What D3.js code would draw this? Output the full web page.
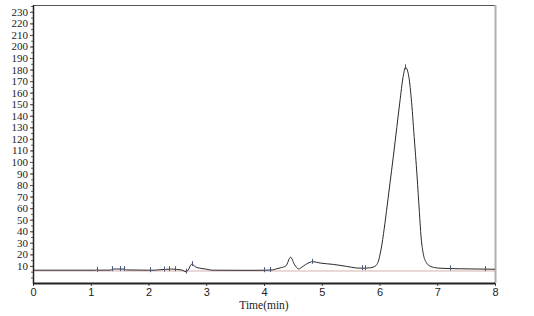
<!DOCTYPE html>
<html>
<head>
<meta charset="utf-8">
<script src="https://cdn.jsdelivr.net/npm/d3@7"></script>
<style>
    body { margin: 0; background: #fff; }
    svg#graph { width: 534px; height: 316px; display: block; }
    .y.axis text { font-family: "Liberation Serif", serif; font-size: 11px; fill: #222; }
    .x.axis text { font-family: "Liberation Sans", sans-serif; font-size: 11px; fill: #222; }
    .axis-title { font-family: "Liberation Serif", serif; font-size: 11.5px; fill: #222; }
</style>
</head>
<body>
<svg id="graph"></svg>
<script>
// signal: retention time (min) and response
var times = [0, 1.08, 1.10, 1.12, 1.35, 1.37, 1.45, 1.58, 1.62, 2.0, 2.1, 2.2, 2.30, 2.40, 2.48,
    2.58, 2.65, 2.68, 2.75, 2.82, 2.89, 3.0, 3.1, 3.5, 3.9, 4.05, 4.15, 4.22, 4.30, 4.38, 4.46,
    4.53, 4.60, 4.66, 4.72, 4.80, 4.84, 4.97, 5.2, 5.43, 5.6, 5.7, 5.8, 5.89, 5.95, 5.98, 6.01,
    6.04, 6.07, 6.12, 6.18, 6.24, 6.30, 6.35, 6.41, 6.45, 6.50, 6.55, 6.60, 6.65, 6.69, 6.72,
    6.76, 6.81, 6.87, 6.95, 7.05, 7.4, 8.0];
var response = [6.3, 6.3, 6.6, 6.3, 6.4, 7.2, 7.3, 7.2, 6.5, 6.3, 6.3, 6.7, 7.0, 7.3, 7.0,
    6.4, 5.0, 6.0, 11.5, 9.0, 8.0, 7.2, 6.3, 6.2, 6.2, 6.3, 6.6, 7.5, 8.5, 10.0, 17.5,
    11.0, 7.4, 9.0, 11.2, 13.2, 13.7, 12.5, 11.3, 9.6, 8.2, 8.0, 8.2, 8.9, 11, 14, 20,
    28, 38, 57, 81, 105, 130, 151, 174, 182, 176, 155, 122, 88, 57, 35,
    20, 13, 10, 8.6, 8.0, 7.5, 7.1];
// integration event marks
var markTimes = [1.10, 1.37, 1.50, 1.58, 2.03, 2.26, 2.36, 2.46, 2.65, 2.75, 4.0, 4.1, 4.83,
    5.69, 5.75, 6.45, 7.22, 7.83];
var baselineLevel = 5.6;
var xTicks = [0, 1, 2, 3, 4, 5, 6, 7, 8];
var yTicks = d3.range(10, 231, 10);
var xTitle = "Time(min)";

(function () {
    var svg = d3.select("svg#graph"),
        left = 33, right = 495, top = 5, bottom = 283;

    var data = [];
    for (var i = 0; i < times.length; i++) {
        data.push({t: times[i], v: response[i]});
    }

    var x = d3.scaleLinear().domain([0, 8]).range([left, right]);
    var y = d3.scaleLinear().domain([-4.8, 235.9]).range([bottom, top]);

    // frame
    svg.append("line")
        .attr("x1", left).attr("x2", right).attr("y1", top + 0.5).attr("y2", top + 0.5)
        .attr("stroke", "#555").attr("stroke-width", 1);
    svg.append("line")
        .attr("x1", right + 0.5).attr("x2", right + 0.5).attr("y1", top).attr("y2", bottom)
        .attr("stroke", "#b0b0b0").attr("stroke-width", 2);

    // baseline drawn by the integrator
    svg.append("line")
        .attr("x1", x(0)).attr("x2", x(8))
        .attr("y1", y(baselineLevel)).attr("y2", y(baselineLevel))
        .attr("stroke", "#d8b0b0").attr("stroke-width", 1);

    var line = d3.line()
        .x(function (d) { return x(d.t); })
        .y(function (d) { return y(d.v); })
        .curve(d3.curveMonotoneX);

    svg.append("path")
        .attr("d", line(data))
        .attr("fill", "none")
        .attr("stroke", "#2a2a2a")
        .attr("stroke-width", 1);

    // event marks sitting on the trace
    var interp = d3.scaleLinear().domain(times).range(response);
    svg.selectAll("line.mark")
        .data(markTimes)
        .enter().append("line")
        .attr("class", "mark")
        .attr("x1", function (d) { return Math.round(x(d)) + 0.5; })
        .attr("x2", function (d) { return Math.round(x(d)) + 0.5; })
        .attr("y1", function (d) { return y(interp(d)) - 3; })
        .attr("y2", function (d) { return y(interp(d)) + 2; })
        .attr("stroke", "#4a5a78").attr("stroke-width", 1);

    // y axis: labelled ticks plus minor ruler
    var yAxis = d3.axisLeft(y).tickValues(yTicks).tickSize(3).tickPadding(2);
    var gy = svg.append("g")
        .attr("class", "y axis")
        .attr("transform", "translate(" + left + ",0)")
        .call(yAxis);
    gy.select(".domain").remove();
    gy.selectAll(".tick line").attr("stroke", "#444");
    svg.append("g")
        .attr("transform", "translate(" + left + ",0)")
        .call(d3.axisLeft(y).tickValues(d3.range(0, 236, 5)).tickSize(2).tickFormat(""))
        .call(function (g) {
            g.select(".domain").remove();
            g.selectAll(".tick line").attr("stroke", "#666");
        });
    svg.append("line")
        .attr("x1", left + 0.5).attr("x2", left + 0.5).attr("y1", top).attr("y2", bottom + 1)
        .attr("stroke", "#222").attr("stroke-width", 1.5);

    // x axis
    var xAxis = d3.axisBottom(x).tickValues(xTicks).tickSize(3).tickPadding(2)
        .tickFormat(d3.format("d"));
    var gx = svg.append("g")
        .attr("class", "x axis")
        .attr("transform", "translate(0," + bottom + ")")
        .call(xAxis);
    gx.select(".domain").remove();
    gx.selectAll(".tick line").attr("stroke", "#444");
    svg.append("line")
        .attr("x1", left).attr("x2", right).attr("y1", bottom + 0.5).attr("y2", bottom + 0.5)
        .attr("stroke", "#222").attr("stroke-width", 1.8);

    svg.append("text")
        .attr("class", "axis-title")
        .attr("x", (left + right) / 2)
        .attr("y", 309)
        .attr("text-anchor", "middle")
        .text(xTitle);
})();
</script>
</body>
</html>
